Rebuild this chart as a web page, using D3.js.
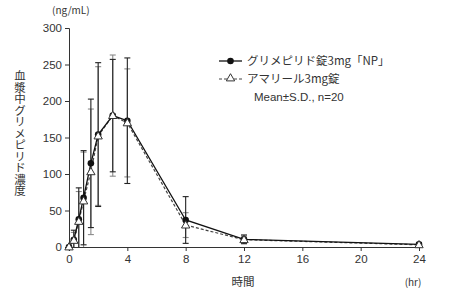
<!DOCTYPE html>
<html>
<head>
<meta charset="utf-8">
<script src="https://cdn.jsdelivr.net/npm/d3@7"></script>
<style>
  body { margin: 0; background: #fff; }
  svg { display: block; }
  text { fill: #333; }
</style>
</head>
<body>
<div id="chart"></div>
<script>
// sampling times (hr) and concentrations (ng/mL)
const times = [0, 0.33, 0.67, 1, 1.5, 2, 3, 4, 8, 12, 24];
const npMean = [0, 10, 38, 67.5, 114.6, 154, 180, 173, 37, 10.5, 3.7];
const npSD = [0, 13, 43, 64.5, 88, 98.5, 77, 86, 32, 6, 2];
const amMean = [0, 9, 35, 63, 103, 152, 180, 170, 30, 10, 3];
const amSD = [0, 11, 41, 67, 86, 95, 83, 74, 17, 5, 2];

const xTicks = [0, 4, 8, 12, 16, 20, 24];
const yTicks = [0, 50, 100, 150, 200, 250, 300];
const seriesNames = ["グリメピリド錠3mg「NP」", "アマリール3mg錠"];
const noteText = "Mean±S.D., n=20";
const yTitle = "血漿中グリメピリド濃度";

const W = 450, H = 294;
const margin = { top: 28, right: 31, bottom: 47, left: 69 },
    width = W - margin.left - margin.right,
    height = H - margin.top - margin.bottom;

const jp = "'Noto Sans CJK JP', 'Noto Sans', sans-serif";
const num = "'Liberation Sans', Arial, sans-serif";

const svg = d3.select("#chart").append("svg")
    .attr("width", W)
    .attr("height", H);

const g = svg.append("g")
    .attr("transform", `translate(${margin.left}, ${margin.top})`);

const x = d3.scaleLinear().domain([0, 24]).range([0, width]);
const y = d3.scaleLinear().domain([0, 300]).range([height, 0]);

//axes
const xAxis = g.append("g")
    .attr("transform", `translate(0, ${height})`)
    .call(d3.axisBottom(x).tickValues(xTicks).tickSize(4).tickPadding(4));
const yAxis = g.append("g")
    .call(d3.axisLeft(y).tickValues(yTicks).tickSize(4).tickPadding(3));

[xAxis, yAxis].forEach(a => {
    a.select(".domain").attr("stroke", "#333").attr("stroke-width", 1);
    a.selectAll(".tick line").attr("stroke", "#333");
    a.selectAll(".tick text")
        .style("font-family", num)
        .style("font-size", "11.5px")
        .attr("fill", "#333");
});

// data rows
const np = times.map((t, i) => ({ t, m: npMean[i], sd: npSD[i] }));
const am = times.map((t, i) => ({ t, m: amMean[i], sd: amSD[i] }));

// error bars: reference drawn grey, test drawn black
function errorBars(data, color) {
    const eg = g.append("g").attr("stroke", color).attr("stroke-width", 1.1);
    data.forEach(d => {
        if (d.sd <= 0) return;
        const hi = d.m + d.sd, lo = Math.max(0, d.m - d.sd);
        const cx = x(d.t);
        eg.append("line").attr("x1", cx).attr("x2", cx)
            .attr("y1", y(hi)).attr("y2", y(lo));
        eg.append("line").attr("x1", cx - 3).attr("x2", cx + 3)
            .attr("y1", y(hi)).attr("y2", y(hi));
        if (d.m - d.sd > 0) {
            eg.append("line").attr("x1", cx - 3).attr("x2", cx + 3)
                .attr("y1", y(lo)).attr("y2", y(lo));
        }
    });
}
errorBars(am, "#8a8a8a");
errorBars(np, "#222");

const line = d3.line().x(d => x(d.t)).y(d => y(d.m));

g.append("path").datum(am)
    .attr("fill", "none")
    .attr("stroke", "#444")
    .attr("stroke-width", 1.2)
    .attr("stroke-dasharray", "3,2")
    .attr("d", line);

g.append("path").datum(np)
    .attr("fill", "none")
    .attr("stroke", "#111")
    .attr("stroke-width", 1.3)
    .attr("d", line);

const tri = d3.symbol().type(d3.symbolTriangle).size(30);

g.selectAll(".np").data(np).enter()
    .append("circle")
    .attr("cx", d => x(d.t))
    .attr("cy", d => y(d.m))
    .attr("r", 3.3)
    .attr("fill", "#111");

g.selectAll(".am").data(am).enter()
    .append("path")
    .attr("d", tri)
    .attr("transform", d => `translate(${x(d.t)}, ${y(d.m) + 0.5})`)
    .attr("fill", "#fff")
    .attr("stroke", "#333")
    .attr("stroke-width", 1);

// legend
const lg = svg.append("g");
lg.append("line").attr("x1", 219).attr("x2", 242).attr("y1", 61).attr("y2", 61)
    .attr("stroke", "#111").attr("stroke-width", 1.3);
lg.append("circle").attr("cx", 230.5).attr("cy", 61).attr("r", 3.3).attr("fill", "#111");
lg.append("line").attr("x1", 219).attr("x2", 242).attr("y1", 79).attr("y2", 79)
    .attr("stroke", "#444").attr("stroke-width", 1.2).attr("stroke-dasharray", "3,2");
lg.append("path").attr("d", tri)
    .attr("transform", "translate(230.5, 78.5)")
    .attr("fill", "#fff").attr("stroke", "#333");

seriesNames.forEach((s, i) => {
    lg.append("text")
        .attr("x", 247).attr("y", 61 + i * 18)
        .attr("dy", "0.36em")
        .style("font-family", jp)
        .style("font-size", "11.5px")
        .text(s);
});
lg.append("text")
    .attr("x", 254).attr("y", 97)
    .attr("dy", "0.36em")
    .style("font-family", num)
    .style("font-size", "11.5px")
    .text(noteText);

// titles
svg.append("text")
    .attr("x", 52).attr("y", 10)
    .attr("dy", "0.36em")
    .style("font-family", jp)
    .style("font-size", "10px")
    .text("(ng/mL)");

// vertical y title, one text element
svg.append("text")
    .attr("x", 20).attr("y", 70)
    .style("font-family", jp)
    .style("font-size", "11.5px")
    .style("writing-mode", "vertical-rl")
    .style("text-orientation", "upright")
    .text(yTitle);

svg.append("text")
    .attr("x", 243).attr("y", 282)
    .attr("dy", "0.36em")
    .attr("text-anchor", "middle")
    .style("font-family", jp)
    .style("font-size", "11.5px")
    .text("時間");

svg.append("text")
    .attr("x", 413).attr("y", 282)
    .attr("dy", "0.36em")
    .attr("text-anchor", "middle")
    .style("font-family", jp)
    .style("font-size", "10px")
    .text("(hr)");
</script>
</body>
</html>
